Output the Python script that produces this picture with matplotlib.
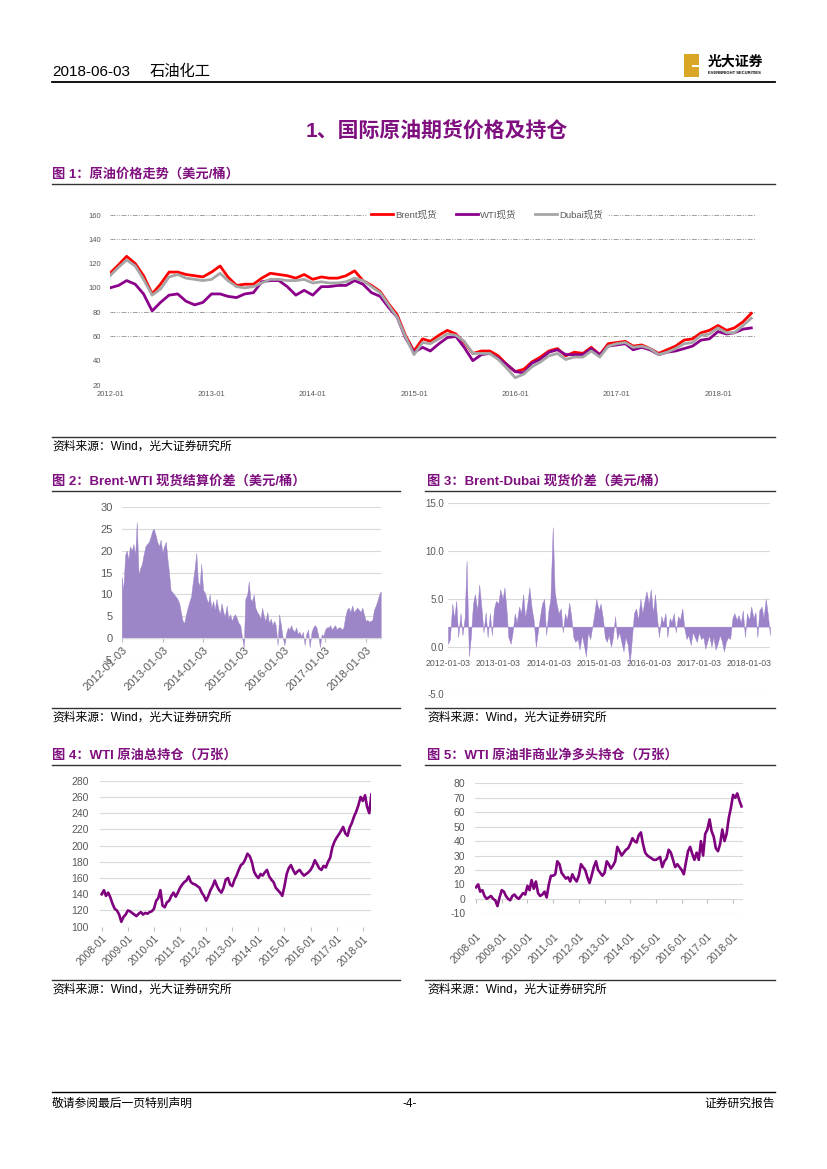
import matplotlib
matplotlib.use('Agg')
import matplotlib.pyplot as plt
from matplotlib.lines import Line2D
from matplotlib.patches import Rectangle
from matplotlib import font_manager
from matplotlib.font_manager import FontProperties
import pandas as pd

# ---------------- data ----------------
price_start = '2012-01-01'
brent_spot = [
    112, 119, 126, 120, 110, 95, 103, 113, 113, 111, 110, 109,
    113, 118, 109, 102, 103, 103, 108, 112, 111, 110, 108, 111,
    107, 109, 108, 108, 110, 114, 106, 102, 97, 87, 78, 61,
    48, 58, 56, 61, 65, 62, 55, 46, 48, 48, 44, 37,
    31, 33, 39, 43, 48, 50, 44, 47, 46, 51, 45, 54,
    55, 56, 52, 53, 50, 46, 49, 52, 57, 58, 63, 65,
    69, 65, 67, 72, 79]
wti_spot = [
    100, 102, 106, 103, 95, 81, 88, 94, 95, 89, 86, 88,
    95, 95, 93, 92, 95, 96, 105, 106, 106, 101, 94, 98,
    94, 101, 101, 102, 102, 106, 103, 96, 93, 84, 76, 59,
    47, 51, 48, 54, 59, 60, 51, 40, 45, 46, 42, 37,
    31, 30, 38, 41, 47, 49, 45, 45, 45, 50, 45, 52,
    53, 54, 49, 51, 49, 45, 47, 48, 50, 52, 57, 58,
    64, 62, 63, 66, 67]
dubai_spot = [
    110, 117, 123, 118, 107, 94, 99, 109, 111, 108, 107, 106,
    107, 112, 106, 101, 100, 101, 104, 107, 107, 106, 106, 107,
    104, 105, 104, 104, 105, 108, 106, 101, 96, 86, 76, 60,
    45, 55, 54, 58, 62, 61, 56, 46, 46, 46, 41, 34,
    26, 29, 35, 39, 44, 46, 41, 43, 43, 48, 43, 52,
    54, 55, 51, 52, 50, 45, 47, 50, 54, 55, 61, 62,
    67, 63, 63, 69, 75]
legend_labels = ['Brent现货', 'WTI现货', 'Dubai现货']
price_ticks = ['2012-01', '2013-01', '2014-01', '2015-01', '2016-01', '2017-01', '2018-01']
fig1_grid_levels = [60, 80, 140, 160]

spread_start = '2012-01-01'
brent_wti_spread = [
    14, 11, 19, 20, 18, 21, 20, 21.5, 19, 26.5, 14.5, 16, 17, 19, 21, 21.5, 22, 23, 24.5, 25, 23.5, 22, 21, 22.5,
    19.5, 21, 22, 18, 15, 11, 10.5, 10, 9.5, 9, 8, 6, 4, 3.5, 5.5, 7, 8.5, 9.5, 13, 15.5, 19.5, 13, 12, 17,
    11, 10.5, 9, 8, 10, 7, 8.5, 6.5, 9, 7, 5.5, 8, 6, 5, 7.5, 4.5, 5.5, 4, 5, 5.5, 4.5, 3.5, 3, 0.5,
    -2, 9, 10, 13, 9, 8.5, 10, 7, 6, 5.5, 4.5, 7, 5, 4, 6, 3.5, 4.5, 3, 4, 3, -1.5, 5.5, 3, 0.5,
    -1.5, 1, 2.5, 2, 3, 2, 1.5, 2.5, 1, 1.5, 0.5, 1.5, -1.5, 1, 2, -2, 1.5, 2.5, 3, 2.5, 0.5, -2, 1, 0.5,
    2, 2.5, 2.5, 3, 2, 2.5, 3, 2, 2.5, 2.5, 2, 2.5, 5, 6.5, 7, 6, 7.5, 6, 6.5, 7, 6.5, 6, 7, 5.5,
    4, 4.2, 3.8, 4, 4.2, 6.5, 7.5, 8.5, 10, 10.7]
brent_dubai_spread = [
    0.3, 0.8, 4.5, 3.0, 4.8, 1.0, 3.5, 1.2, 3.0, 9.0, -1.0, 1.0, 4.5, 5.5, 3.8, 6.5, 4.0, 1.5, 3.6, 1.0, 3.5, 1.2, 4.0, 4.8,
    4.5, 6.0, 5.0, 6.2, 4.0, 1.0, 0.3, 1.5, 3.5, 2.5, 4.2, 3.5, 5.5, 3.0, 4.6, 6.2, 4.0, 2.8, 0.0, 1.5, 3.2, 4.5, 5.0, 1.2,
    3.8, 5.0, 12.5, 5.8, 4.5, 3.5, 4.0, 1.5, 3.5, 2.8, 4.6, 3.2, 1.0, 0.5, 0.8, -0.3, 1.2, 0.2, -1.0, 1.5, 0.8, 2.0, 3.5, 5.0,
    3.8, 4.5, 3.0, 1.0, 0.5, 1.2, 0.0, 1.0, 3.2, 0.8, 1.5, 0.5, -0.5, 1.0, 0.2, -1.8, 1.0, 3.5, 4.0, 2.8, 5.0, 3.5, 4.8, 5.8,
    4.5, 6.0, 3.5, 5.5, 3.0, 1.0, 3.2, 2.5, 3.5, 1.0, 3.0, 2.6, 3.5, 1.5, 3.2, 2.8, 4.0, 2.0, 0.8, 1.2, 0.2, 1.5, 1.0, 0.5,
    1.5, 0.8, 1.0, -0.2, 0.5, 1.2, 0.0, 1.0, -0.3, 0.3, 1.2, 0.6, -0.5, 0.5, 1.0, 0.8, 3.0, 3.5, 2.8, 3.3, 2.5, 3.8, 1.0, 3.5,
    2.8, 4.2, 3.0, 3.6, 1.0, 3.8, 4.2, 3.0, 5.0, 3.5, 1.2]
dubai_baseline = 2.1
spread_ticks = ['2012-01-03', '2013-01-03', '2014-01-03', '2015-01-03',
                '2016-01-03', '2017-01-03', '2018-01-03']

cot_start = '2008-01-01'
wti_open_interest = [
    140, 145, 138, 142, 136, 128, 122, 120, 115, 106, 112, 115,
    120, 119, 117, 115, 113, 116, 118, 115, 117, 116, 118, 119,
    122, 132, 135, 145, 126, 124, 130, 132, 138, 142, 137, 142,
    148, 152, 155, 157, 162, 155, 153, 152, 150, 148, 142, 138,
    132, 138, 145, 150, 157, 150, 145, 142, 148, 158, 160, 152,
    150, 158, 163, 170, 176, 178, 183, 190, 187, 180, 168, 163,
    160, 165, 163, 167, 170, 162, 158, 155, 148, 145, 142, 138,
    150, 165, 172, 176, 170, 165, 168, 170, 166, 163, 165, 167,
    170, 175, 182, 177, 172, 170, 175, 173, 180, 185, 198, 205,
    210, 214, 218, 223, 215, 212, 222, 228, 236, 242, 250, 260,
    255, 262, 248, 240, 263]
wti_net_long = [
    8, 10, 5, 6, 2, 0, 1, 2, 0, -1, -5, 1,
    6, 5, 2, 0, -1, 2, 3, 1, 0, 2, 4, 3,
    9, 6, 13, 7, 12, 4, 2, 3, 5, 1, 10, 16,
    16, 17, 26, 24, 18, 16, 14, 15, 12, 17, 14, 12,
    16, 24, 22, 20, 15, 11, 16, 22, 26, 20, 18, 16,
    18, 26, 24, 21, 23, 26, 36, 33, 30, 32, 34, 35,
    38, 42, 40, 39, 44, 46, 38, 32, 30, 29, 28, 27,
    27, 28, 29, 22, 26, 28, 34, 32, 27, 22, 24, 22,
    20, 17, 25, 33, 36, 31, 27, 32, 27, 40, 30, 45,
    48, 55, 47, 43, 35, 33, 38, 48, 40, 45, 56, 63,
    72, 70, 73, 68, 64]
cot_ticks = ['2008-01', '2009-01', '2010-01', '2011-01', '2012-01', '2013-01',
             '2014-01', '2015-01', '2016-01', '2017-01', '2018-01']

# ---------------- style ----------------
W, H = 827, 1169
PURPLE = '#7F0F7F'
TICK = '#595959'
GRID = '#D9D9D9'
SRC = '资料来源：Wind，光大证券研究所'
plt.rcParams['font.family'] = ['Liberation Sans', 'Noto Sans CJK SC', 'DejaVu Sans']
plt.rcParams['axes.unicode_minus'] = False

names = {f.name for f in font_manager.fontManager.ttflist}
if 'Liberation Sans Narrow' in names:
    NARROW_FP = FontProperties(family='Liberation Sans Narrow', size=7.3)
else:
    NARROW_FP = FontProperties(family='Liberation Sans', size=6.3)

fig = plt.figure(figsize=(W / 100, H / 100), dpi=100)
fig.patch.set_facecolor('white')


def ax_at(l, t, r, b):
    return fig.add_axes([l / W, 1 - b / H, (r - l) / W, (b - t) / H])


def ftext(x, y, s, **kw):
    kw.setdefault('va', 'center')
    return fig.text(x / W, 1 - y / H, s, **kw)


def hline(x0, x1, y, lw=0.8, color='#404040'):
    fig.add_artist(Line2D([x0 / W, x1 / W], [1 - y / H, 1 - y / H], lw=lw,
                          color=color, transform=fig.transFigure))


def no_spines(ax):
    for s in ax.spines.values():
        s.set_visible(False)


# ---------------- page header ----------------
ftext(52, 72, '2018-06-03', fontsize=11, color='black')
ftext(150, 72, '石油化工', fontsize=11, color='black')
hline(52, 775, 82, lw=1.3, color='black')
fig.add_artist(Rectangle((684 / W, 1 - 77 / H), 15 / W, 23 / H, transform=fig.transFigure,
                         facecolor='#D9A625', edgecolor='none'))
fig.add_artist(Rectangle((692 / W, 1 - 66.5 / H), 7 / W, 1.5 / H, transform=fig.transFigure,
                         facecolor='white', edgecolor='none'))
ftext(708, 62, '光大证券', fontsize=10, weight='bold', color='black')
ftext(708, 73, 'EVERBRIGHT SECURITIES', fontsize=3, weight='bold', color='black')

ftext(437, 132, '1、国际原油期货价格及持仓', fontsize=15, weight='bold', color=PURPLE, ha='center')

# ---------------- Figure 1 ----------------
ftext(52, 174, '图 1：原油价格走势（美元/桶）', fontsize=9.5, weight='bold', color=PURPLE)
hline(52, 775, 184, lw=1.0, color='#333333')

price_dates = pd.date_range(price_start, periods=len(brent_spot), freq='MS')
ax1 = ax_at(110, 215, 756, 385)
no_spines(ax1)
for lvl in fig1_grid_levels:
    ax1.axhline(lvl, color='#A0A0A0', lw=0.7, ls=(0, (5, 1.5, 1, 1.5, 1, 1.5)), zorder=1)
ax1.plot(price_dates, brent_spot, color='#FF0000', lw=2.0, label=legend_labels[0], zorder=3)
ax1.plot(price_dates, wti_spot, color='#8B008B', lw=2.0, label=legend_labels[1], zorder=3)
ax1.plot(price_dates, dubai_spot, color='#A6A6A6', lw=2.0, label=legend_labels[2], zorder=3)
ax1.set_ylim(20, 160)
ax1.set_yticks(range(20, 161, 20))
ax1.set_xlim(pd.Timestamp('2012-01-01'), pd.Timestamp('2018-05-18'))
ax1.set_xticks(pd.to_datetime(price_ticks), price_ticks)
ax1.tick_params(length=0, labelsize=5.5, labelcolor=TICK)
ax1.tick_params(axis='y', pad=6.5)
ax1.tick_params(axis='x', pad=4.5)
ax1.legend(loc='center', bbox_to_anchor=(0.584, 1.0), ncol=3, fontsize=6.8,
           handlelength=2.3, handletextpad=0.25, columnspacing=2.0, borderpad=0.5,
           frameon=True, facecolor='white', edgecolor='none', framealpha=1,
           labelcolor=TICK, fancybox=False)

hline(52, 775, 437, lw=1.0, color='#333333')
ftext(52, 447, SRC, fontsize=8.5, color='black')

# ---------------- Figure 2 ----------------
ftext(52, 481, '图 2：Brent-WTI 现货结算价差（美元/桶）', fontsize=9.5, weight='bold', color=PURPLE)
hline(52, 400, 491, lw=1.0, color='#333333')
spread_dates = pd.date_range(spread_start, periods=len(brent_wti_spread), freq='SMS')
ax2 = ax_at(121.7, 506.7, 380.7, 660.3)
no_spines(ax2)
ax2.fill_between(spread_dates, brent_wti_spread, 0, color='#9D86C7', lw=0.3,
                 edgecolor='#9D86C7', zorder=2)
ax2.set_ylim(-5, 30)
ax2.set_yticks(range(-5, 31, 5))
ax2.grid(axis='y', color=GRID, lw=0.8)
ax2.set_axisbelow(True)
ax2.spines['bottom'].set_visible(True)
ax2.spines['bottom'].set_position(('data', 0))
ax2.spines['bottom'].set_color(GRID)
ax2.set_xlim(pd.Timestamp('2012-01-01'), pd.Timestamp('2018-05-15'))
ax2.set_xticks(pd.to_datetime(spread_ticks), spread_ticks)
ax2.tick_params(axis='x', length=3, color='#BFBFBF', labelsize=8, labelcolor=TICK, pad=2)
plt.setp(ax2.get_xticklabels(), rotation=45, ha='right', rotation_mode='anchor')
ax2.tick_params(axis='y', length=0, labelsize=8, labelcolor=TICK, pad=6.5)

hline(52, 400, 708, lw=1.0, color='#333333')
ftext(52, 718, SRC, fontsize=8.5, color='black')

# ---------------- Figure 3 ----------------
ftext(427, 481, '图 3：Brent-Dubai 现货价差（美元/桶）', fontsize=9.5, weight='bold', color=PURPLE)
hline(425, 775, 491, lw=1.0, color='#333333')
dubai_dates = pd.date_range(spread_start, periods=len(brent_dubai_spread), freq='SMS')
ax3 = ax_at(448, 503.3, 770, 694.5)
no_spines(ax3)
ax3.fill_between(dubai_dates, brent_dubai_spread, dubai_baseline, color='#9C82C9',
                 lw=0.3, edgecolor='#9C82C9', zorder=2)
ax3.set_ylim(-5, 15)
ax3.set_yticks([-5, 0, 5, 10, 15], ['-5.0', '0.0', '5.0', '10.0', '15.0'])
ax3.grid(axis='y', color=GRID, lw=0.8)
ax3.set_axisbelow(True)
ax3.spines['bottom'].set_position(('data', 0))
ax3.set_xlim(pd.Timestamp('2012-01-01'), pd.Timestamp('2018-06-01'))
ax3.set_xticks(pd.to_datetime(spread_ticks), spread_ticks)
ax3.tick_params(axis='x', length=0, labelcolor=TICK, pad=8.5)
ax3.tick_params(axis='y', length=0, labelcolor=TICK, pad=3)
for lab in ax3.get_xticklabels():
    lab.set_fontproperties(NARROW_FP)
for lab in ax3.get_yticklabels():
    lab.set_fontproperties(FontProperties(family='Liberation Sans', size=7))

hline(425, 775, 708, lw=1.0, color='#333333')
ftext(427, 718, SRC, fontsize=8.5, color='black')

# ---------------- Figure 4 ----------------
ftext(52, 755, '图 4：WTI 原油总持仓（万张）', fontsize=9.5, weight='bold', color=PURPLE)
hline(52, 400, 765, lw=1.0, color='#333333')
cot_dates = pd.date_range(cot_start, periods=len(wti_open_interest), freq='MS')
ax4 = ax_at(100, 780.7, 371.4, 926.7)
no_spines(ax4)
ax4.plot(cot_dates, wti_open_interest, color='#7F007F', lw=1.9, zorder=3)
ax4.set_ylim(100, 280)
ax4.set_yticks(range(100, 281, 20))
ax4.grid(axis='y', color=GRID, lw=0.8)
ax4.set_axisbelow(True)
ax4.set_xlim(pd.Timestamp('2007-12-08'), pd.Timestamp('2018-05-01'))
ax4.set_xticks(pd.to_datetime(cot_ticks), cot_ticks)
ax4.tick_params(axis='x', length=3, color='#BFBFBF', labelsize=7.5, labelcolor=TICK, pad=2)
plt.setp(ax4.get_xticklabels(), rotation=45, ha='right', rotation_mode='anchor')
ax4.tick_params(axis='y', length=0, labelsize=7.5, labelcolor=TICK, pad=8)

hline(52, 400, 980, lw=1.0, color='#333333')
ftext(52, 990, SRC, fontsize=8.5, color='black')

# ---------------- Figure 5 ----------------
ftext(427, 755, '图 5：WTI 原油非商业净多头持仓（万张）', fontsize=9.5, weight='bold', color=PURPLE)
hline(425, 775, 765, lw=1.0, color='#333333')
ax5 = ax_at(475, 783.3, 743, 913.3)
no_spines(ax5)
ax5.plot(cot_dates, wti_net_long, color='#7F007F', lw=1.9, zorder=3)
y5min, y5max = -10, 80
ax5.set_ylim(y5min, y5max)
ax5.set_yticks(range(y5min, y5max + 1, 10))
ax5.grid(axis='y', color=GRID, lw=0.8)
ax5.set_axisbelow(True)
ax5.set_xlim(pd.Timestamp('2007-12-18'), pd.Timestamp('2018-05-22'))
tick5 = pd.to_datetime(cot_ticks)
ax5.set_xticks(tick5, cot_ticks)
ax5.tick_params(axis='x', length=0, labelsize=7.5, labelcolor=TICK, pad=13)
plt.setp(ax5.get_xticklabels(), rotation=45, ha='right', rotation_mode='anchor')
ax5.tick_params(axis='y', length=0, labelsize=7.5, labelcolor=TICK, pad=7)
sec = ax5.secondary_xaxis((0 - y5min) / (y5max - y5min))
sec.set_xticks(matplotlib.dates.date2num(tick5))
sec.tick_params(axis='x', length=3, color='#BFBFBF', labelbottom=False)
sec.spines['bottom'].set_visible(False)

hline(425, 775, 980, lw=1.0, color='#333333')
ftext(427, 990, SRC, fontsize=8.5, color='black')

# ---------------- footer ----------------
hline(52, 775, 1092, lw=1.0, color='black')
ftext(52, 1104, '敬请参阅最后一页特别声明', fontsize=8.5, color='black')
ftext(410, 1104, '-4-', fontsize=8.5, color='black', ha='center')
ftext(775, 1104, '证券研究报告', fontsize=8.5, color='black', ha='right')

fig.savefig('out.png', dpi=100, facecolor='white')
